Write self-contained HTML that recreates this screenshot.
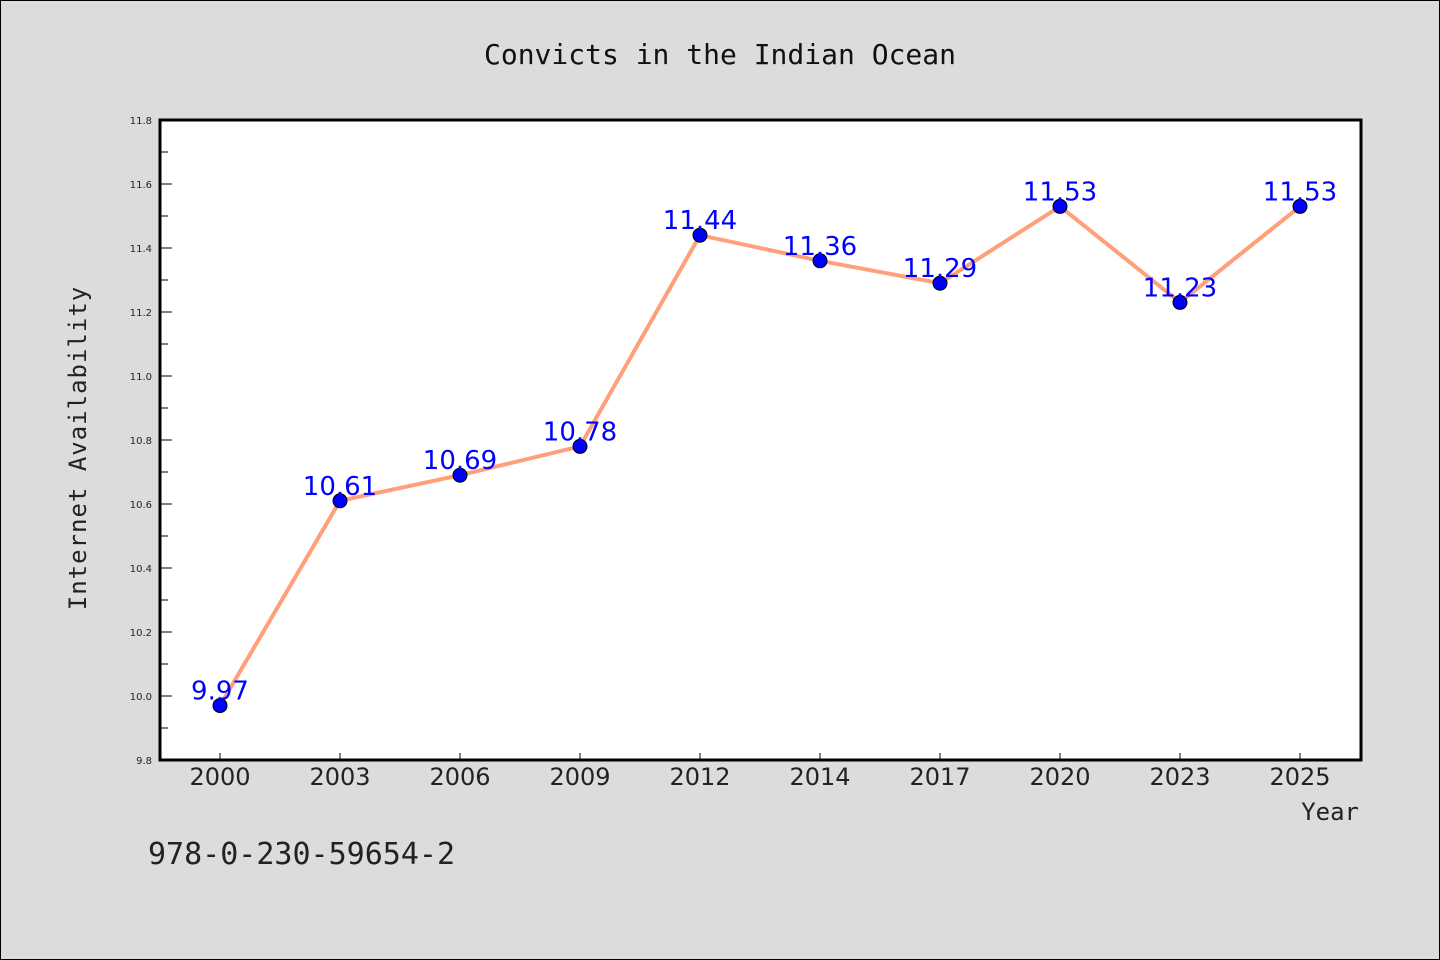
<!DOCTYPE html>
<html><head><meta charset="utf-8"><style>
body{margin:0;background:#dcdcdc}
svg{display:block}
.t{font-family:"WenQuanYi Zen Hei","DejaVu Sans Mono",monospace}
.d{font-family:"DejaVu Sans","Liberation Sans",sans-serif}
</style></head><body>
<svg id="c" width="1440" height="960" xmlns="http://www.w3.org/2000/svg">
<rect x="0.5" y="0.5" width="1439" height="959" fill="#dcdcdc" stroke="#000"/>
<rect x="160" y="120" width="1201" height="640" fill="#fff"/>
<text class="t" x="720" y="64" font-size="28" text-anchor="middle" fill="#111" letter-spacing="0">Convicts in the Indian Ocean</text>
<text class="t" x="86" y="448" font-size="24" text-anchor="middle" fill="#222" letter-spacing="1" transform="rotate(-90 86 448)">Internet Availability</text>
<text class="t" x="1359" y="820" font-size="24" text-anchor="end" fill="#222">Year</text>
<text class="t" x="148" y="864" font-size="30" fill="#222">978-0-230-59654-2</text>
<g id="g"></g>
<rect x="160" y="120" width="1201" height="640" fill="none" stroke="#000" stroke-width="3"/>
</svg>
<script>
const categories=["2000","2003","2006","2009","2012","2014","2017","2020","2023","2025"];
const values=[9.97,10.61,10.69,10.78,11.44,11.36,11.29,11.53,11.23,11.53];
const yTicks=[9.8,10.0,10.2,10.4,10.6,10.8,11.0,11.2,11.4,11.6,11.8];
const NS="http://www.w3.org/2000/svg";
const g=document.getElementById('g');
const yMin=9.8,yMax=11.8,plotTop=120,plotBot=760,plotLeft=160;
function y(v){return plotBot-(v-yMin)/(yMax-yMin)*(plotBot-plotTop);}
function x(i){return 220+i*120;}
function mk(t,a){const e=document.createElementNS(NS,t);for(const k in a)e.setAttribute(k,a[k]);g.appendChild(e);return e;}
yTicks.forEach((v,i)=>{
 const l=mk('line',{x1:plotLeft,x2:plotLeft+12,y1:y(v),y2:y(v),stroke:'#000','stroke-width':1});
 
 
 if(i<yTicks.length-1){const m=mk('line',{x1:plotLeft,x2:plotLeft+8,y1:y(v+0.1),y2:y(v+0.1),stroke:'#000','stroke-width':1});
 
 }
 const t=mk('text',{x:152,y:y(v)+4,'font-size':10,'text-anchor':'end',fill:'#222','class':'d'});
 t.textContent=v.toFixed(1);
 
 
});
categories.forEach((c,i)=>{
 const l=mk('line',{x1:x(i),x2:x(i),y1:plotBot,y2:plotBot-7,stroke:'#000','stroke-width':1});
 
 
 const t=mk('text',{x:x(i),y:785,'font-size':24,'text-anchor':'middle',fill:'#222','class':'d'});
 t.textContent=c;
 
 
});
const p=mk('polyline',{points:values.map((v,i)=>x(i)+','+y(v)).join(' '),fill:'none',stroke:'#ffa07a','stroke-width':4});


values.forEach((v,i)=>{
 const c=mk('circle',{cx:x(i),cy:y(v),r:7,fill:'#0000ff',stroke:'#000','stroke-width':1});
 
 
 const t=mk('text',{x:x(i),y:y(v)-6,'font-size':26,'text-anchor':'middle',fill:'#0000ff','class':'d'});
 t.textContent=v.toFixed(2);
 
 
});
</script>
</body></html>
